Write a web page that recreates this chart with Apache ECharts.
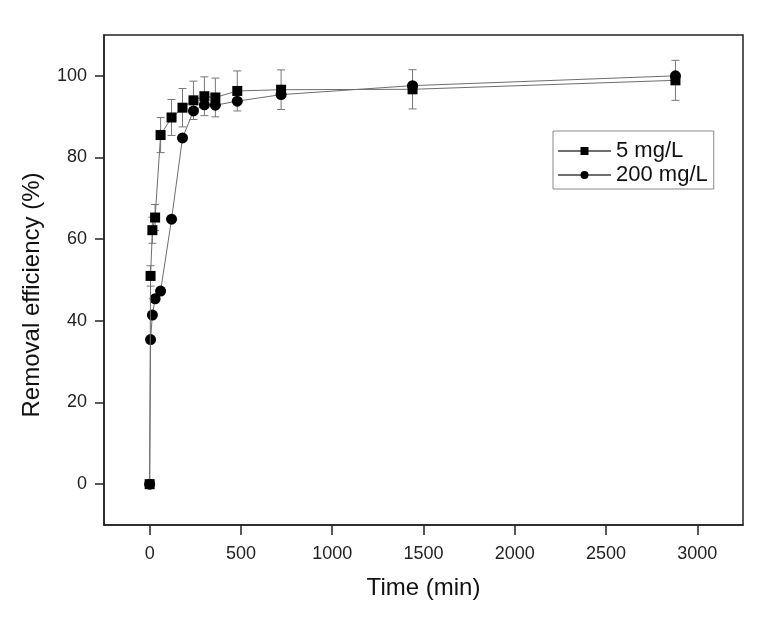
<!DOCTYPE html>
<html>
<head>
<meta charset="utf-8">
<script src="https://cdn.jsdelivr.net/npm/echarts@6/dist/echarts.min.js"></script>
<style>
  html, body { margin: 0; padding: 0; background: #fff; }
  #chart { width: 768px; height: 618px; }
</style>
</head>
<body>
<div id="chart"></div>
<script>
// time points (min)
const times = [0, 5, 15, 30, 60, 120, 180, 240, 300, 360, 480, 720, 1440, 2880];
// removal efficiency (%) for each initial concentration
const low = [0, 51.0, 62.2, 65.3, 85.5, 89.8, 92.2, 94.0, 95.0, 94.7, 96.3, 96.6, 96.7, 98.9];
const lowErr = [0, 2.5, 3.2, 3.2, 4.3, 4.4, 4.7, 4.7, 4.75, 4.75, 4.9, 4.85, 4.8, 4.9];
const high = [0, 35.4, 41.4, 45.4, 47.3, 64.9, 84.8, 91.4, 92.9, 92.8, 93.8, 95.4, 97.6, 100.0];
const seriesNames = ['5 mg/L', '200 mg/L'];
const xTicks = [0, 500, 1000, 1500, 2000, 2500, 3000];
const yTicks = [0, 20, 40, 60, 80, 100];

const font = 'Liberation Sans, Arial, sans-serif';

function pairs(xs, ys) {
  return xs.map((x, i) => [x, ys[i]]);
}

function errBars(params, api) {
  const x = api.value(0);
  const top = api.coord([x, api.value(2)]);
  const bot = api.coord([x, api.value(1)]);
  const cap = 4;
  const style = { stroke: '#777', lineWidth: 1 };
  return {
    type: 'group',
    children: [
      { type: 'line', shape: { x1: top[0], y1: top[1], x2: bot[0], y2: bot[1] }, style: style },
      { type: 'line', shape: { x1: top[0] - cap, y1: top[1], x2: top[0] + cap, y2: top[1] }, style: style },
      { type: 'line', shape: { x1: bot[0] - cap, y1: bot[1], x2: bot[0] + cap, y2: bot[1] }, style: style }
    ]
  };
}

const chart = echarts.init(document.getElementById('chart'));

chart.setOption({
  animation: false,
  backgroundColor: '#fff',
  grid: {
    left: 104, right: 25, top: 35, bottom: 93,
    show: true, borderColor: '#222', borderWidth: 1.5
  },
  legend: {
    data: seriesNames.map(n => ({ name: n })),
    orient: 'vertical',
    left: 553, top: 131,
    itemWidth: 53, itemHeight: 10, itemGap: 0,
    padding: [8, 6, 2, 4],
    borderColor: '#888', borderWidth: 1,
    textStyle: { fontFamily: font, fontSize: 22, color: '#111', lineHeight: 24 }
  },
  xAxis: {
    type: 'value',
    min: -250, max: 3250,
    name: 'Time (min)',
    nameLocation: 'middle',
    nameGap: 51,
    nameTextStyle: { fontFamily: font, fontSize: 24, color: '#111' },
    splitLine: { show: false },
    axisLine: { show: true, onZero: false, lineStyle: { color: '#222', width: 1.5 } },
    axisTick: { show: true, inside: false, length: 10, customValues: xTicks, lineStyle: { color: '#222', width: 1.5 } },
    axisLabel: {
      customValues: xTicks, margin: 20, fontFamily: font, fontSize: 18, color: '#222',
      formatter: v => String(v)
    }
  },
  yAxis: {
    type: 'value',
    min: -10, max: 110,
    name: 'Removal efficiency (%)',
    nameLocation: 'middle',
    nameGap: 60,
    nameTextStyle: { fontFamily: font, fontSize: 24, color: '#111', padding: [0, 30, 0, 0] },
    splitLine: { show: false },
    axisLine: { show: true, onZero: false, lineStyle: { color: '#222', width: 1.5 } },
    axisTick: { show: true, inside: false, length: 9, customValues: yTicks, lineStyle: { color: '#222', width: 1.5 } },
    axisLabel: { customValues: yTicks, margin: 17, fontFamily: font, fontSize: 18, color: '#222' }
  },
  series: [
    {
      type: 'custom',
      name: 'err',
      renderItem: errBars,
      data: times.map((t, i) => [t, low[i] - lowErr[i], low[i] + lowErr[i]]),
      z: 1,
      silent: true
    },
    {
      type: 'line',
      name: seriesNames[1],
      data: pairs(times, high),
      symbol: 'circle',
      symbolSize: 11,
      itemStyle: { color: '#000' },
      lineStyle: { color: '#6e6e6e', width: 1 },
      z: 2
    },
    {
      type: 'line',
      name: seriesNames[0],
      data: pairs(times, low),
      symbol: 'rect',
      symbolSize: 10,
      itemStyle: { color: '#000' },
      lineStyle: { color: '#6e6e6e', width: 1 },
      z: 3
    }
  ]
});
</script>
</body>
</html>
